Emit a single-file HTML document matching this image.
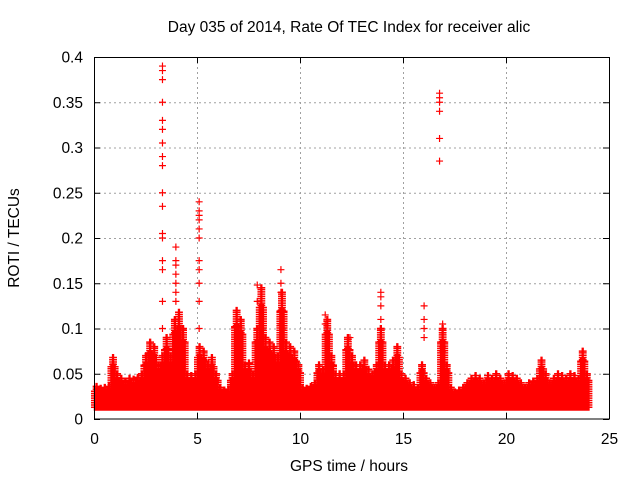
<!DOCTYPE html>
<html><head><meta charset="utf-8"><style>
body{margin:0;background:#fff}
svg{display:block;font-family:"Liberation Sans",sans-serif;font-size:15.5px}
</style></head><body>
<svg width="640" height="480" viewBox="0 0 640 480">
<rect width="640" height="480" fill="#fff"/>
<text x="349" y="32" text-anchor="middle">Day 035 of 2014, Rate Of TEC Index for receiver alic</text>
<g id="grid"></g>
<g id="ticks"></g>
<path id="band" fill="none" stroke="#ff0000" stroke-width="1.5"/>
<path id="spk" fill="none" stroke="#ff0000" stroke-width="1.2"/>
<rect x="94.5" y="57.5" width="515" height="361.5" fill="none" stroke="#000"/>
<text x="349" y="471" text-anchor="middle">GPS time / hours</text>
<text transform="translate(19,238) rotate(-90)" text-anchor="middle">ROTI / TECUs</text>
</svg>
<script>
const xTicks=[0,5,10,15,20,25];
const yTicks=[0,0.05,0.1,0.15,0.2,0.25,0.3,0.35,0.4];
const yTickLabels=["0","0.05","0.1","0.15","0.2","0.25","0.3","0.35","0.4"];
const bandStep=0.2;
const bandTop=[0.036,0.034,0.035,0.036,0.068,0.05,0.045,0.042,0.045,0.044,0.046,0.05,0.07,0.085,0.08,0.06,0.07,0.09,0.07,0.11,0.118,0.10,0.05,0.048,0.05,0.08,0.075,0.06,0.068,0.05,0.035,0.032,0.033,0.05,0.12,0.11,0.06,0.062,0.05,0.1,0.145,0.09,0.085,0.08,0.07,0.14,0.085,0.08,0.075,0.06,0.035,0.034,0.036,0.04,0.06,0.055,0.11,0.07,0.05,0.05,0.05,0.09,0.07,0.06,0.06,0.065,0.055,0.05,0.06,0.1,0.06,0.06,0.065,0.08,0.05,0.045,0.04,0.038,0.035,0.06,0.045,0.04,0.035,0.04,0.1,0.06,0.035,0.03,0.032,0.035,0.04,0.045,0.048,0.045,0.04,0.048,0.045,0.05,0.045,0.04,0.05,0.048,0.045,0.04,0.035,0.04,0.042,0.045,0.065,0.05,0.04,0.045,0.05,0.048,0.045,0.05,0.048,0.045,0.075,0.05];
const spikeHours=[3.3,3.3,3.3,3.3,3.3,3.3,3.3,3.3,3.3,3.3,3.3,3.3,3.3,3.3,3.3,3.3,3.3,3.95,3.95,3.95,3.95,3.95,3.95,3.95,5.08,5.08,5.08,5.08,5.08,5.08,5.08,5.08,5.08,5.08,5.08,7.9,7.9,9.05,9.05,9.05,9.05,9.05,11.2,11.2,12.4,13.9,13.9,13.9,13.9,13.9,16.0,16.0,16.0,16.0,16.75,16.75,16.75,16.75,16.75,16.75,16.9,16.9,16.9,16.9,16.9];
const spikeValues=[0.39,0.385,0.375,0.35,0.33,0.32,0.305,0.29,0.28,0.25,0.235,0.205,0.2,0.175,0.165,0.13,0.1,0.19,0.175,0.17,0.16,0.15,0.14,0.13,0.24,0.23,0.225,0.22,0.21,0.2,0.175,0.165,0.15,0.13,0.1,0.148,0.13,0.165,0.15,0.14,0.12,0.105,0.115,0.105,0.09,0.14,0.135,0.125,0.11,0.1,0.125,0.11,0.1,0.09,0.36,0.355,0.35,0.34,0.31,0.285,0.105,0.095,0.085,0.08,0.075];
const X=h=>94.5+h*20.6;
const Y=v=>419-v*905;
const NS="http://www.w3.org/2000/svg";
const grid=document.getElementById('grid'),ticks=document.getElementById('ticks');
function mk(tag,attrs,parent){const e=document.createElementNS(NS,tag);for(const k in attrs)e.setAttribute(k,attrs[k]);parent.appendChild(e);return e;}
xTicks.forEach(t=>{
  const x=X(t);
  if(t>0&&t<25){const g=mk('line',{x1:x,x2:x,y1:57,y2:419,stroke:'#a0a0a0','stroke-dasharray':'2,3'},grid);
  
  }
  mk('line',{x1:x,x2:x,y1:419,y2:413,stroke:'#000'},ticks);
  mk('line',{x1:x,x2:x,y1:57,y2:63,stroke:'#000'},ticks);
  const l=mk('text',{x:x,y:444,'text-anchor':'middle'},ticks);l.textContent=t;
  
  
});
yTicks.forEach((t,i)=>{
  const y=Y(t)+0.5;
  if(t>0&&t<0.4){const g=mk('line',{x1:94,x2:609,y1:y,y2:y,stroke:'#a0a0a0','stroke-dasharray':'2,3'},grid);
  
  }
  mk('line',{x1:94,x2:100,y1:y,y2:y,stroke:'#000'},ticks);
  mk('line',{x1:603,x2:609,y1:y,y2:y,stroke:'#000'},ticks);
  const l=mk('text',{x:83,y:y+5,'text-anchor':'end'},ticks);l.textContent=yTickLabels[i];
  
  
});
function plus(x,y){return 'M'+(x-3.5)+' '+y+'h7M'+x+' '+(y-3.5)+'v7';}
let d='';
bandTop.forEach((v,i)=>{
  const h0=i*bandStep;
  for(let dx=0;dx<=bandStep;dx+=0.04){
    const top=dx<0.05||dx>0.15?v*0.85:v;
    for(let val=0.013;val<=top;val+=0.0025) d+=plus(X(h0+dx),Y(val));
    d+=plus(X(h0+dx),Y(top));
  }
});
document.getElementById('band').setAttribute('d',d);
let s='';
spikeHours.forEach((h,i)=>{s+=plus(X(h),Y(spikeValues[i]));});
document.getElementById('spk').setAttribute('d',s);
</script>
</body></html>
